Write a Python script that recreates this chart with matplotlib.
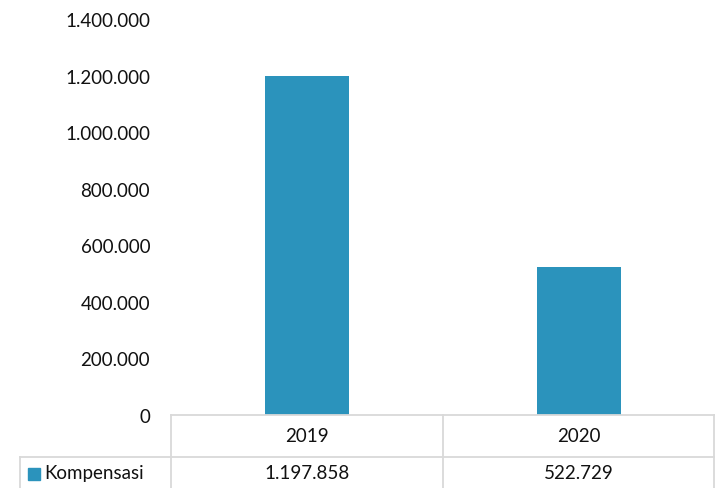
import matplotlib.pyplot as plt
from matplotlib.patches import Rectangle
from matplotlib.lines import Line2D
import matplotlib.transforms as mtransforms

years = ['2019', '2020']
kompensasi = [1197858, 522729]
series_name = 'Kompensasi'
yticks = [0, 200000, 400000, 600000, 800000, 1000000, 1200000, 1400000]


def fmt(v):
    return f'{v:,}'.replace(',', '.')


plt.rcParams['font.family'] = ['Lato', 'DejaVu Sans']
W, H = 715, 489
fig = plt.figure(figsize=(W / 100, H / 100), dpi=100)
ax = fig.add_axes([171 / W, (H - 416) / H, (715 - 171) / W, (416 - 20) / H])

color = '#2B93BC'
x = range(len(years))
ax.bar(x, kompensasi, width=0.31, color=color)
ax.set_xlim(-0.5, len(years) - 0.5)
ax.set_ylim(0, 1400000)
ax.set_yticks(yticks)
ax.set_yticklabels([fmt(v) for v in yticks], fontsize=13.5, color='#111111')
ax.tick_params(axis='y', length=0, pad=15)
ax.set_xticks([])
for s in ax.spines.values():
    s.set_visible(False)

# data table below the plot
grid = '#d9d9d9'
fy = lambda py: (H - py) / H
fx = lambda px: px / W
lines = [
    ((171, 715), (416, 416)),
    ((20, 715), (458, 458)),
    ((171, 171), (416, 489)),
    ((443, 443), (416, 489)),
    ((714, 714), (416, 489)),
    ((20, 20), (458, 489)),
]
for (x0, x1), (y0, y1) in lines:
    fig.add_artist(Line2D([fx(x0), fx(x1)], [fy(y0), fy(y1)], color=grid, lw=1.3))

trans = mtransforms.blended_transform_factory(ax.transData, fig.transFigure)
for i, (yr, v) in enumerate(zip(years, kompensasi)):
    ax.text(i, fy(437), yr, transform=trans, ha='center', va='center',
            fontsize=13.5, color='#111111', clip_on=False)
    ax.text(i, fy(474), fmt(v), transform=trans, ha='center', va='center',
            fontsize=13.5, color='#111111', clip_on=False)

fig.add_artist(Rectangle((fx(28), fy(481)), 12 / W, 12 / H, color=color))
fig.text(fx(44), fy(474), series_name, ha='left', va='center', fontsize=13.5, color='#111111')

fig.savefig('out.png', dpi=100)
